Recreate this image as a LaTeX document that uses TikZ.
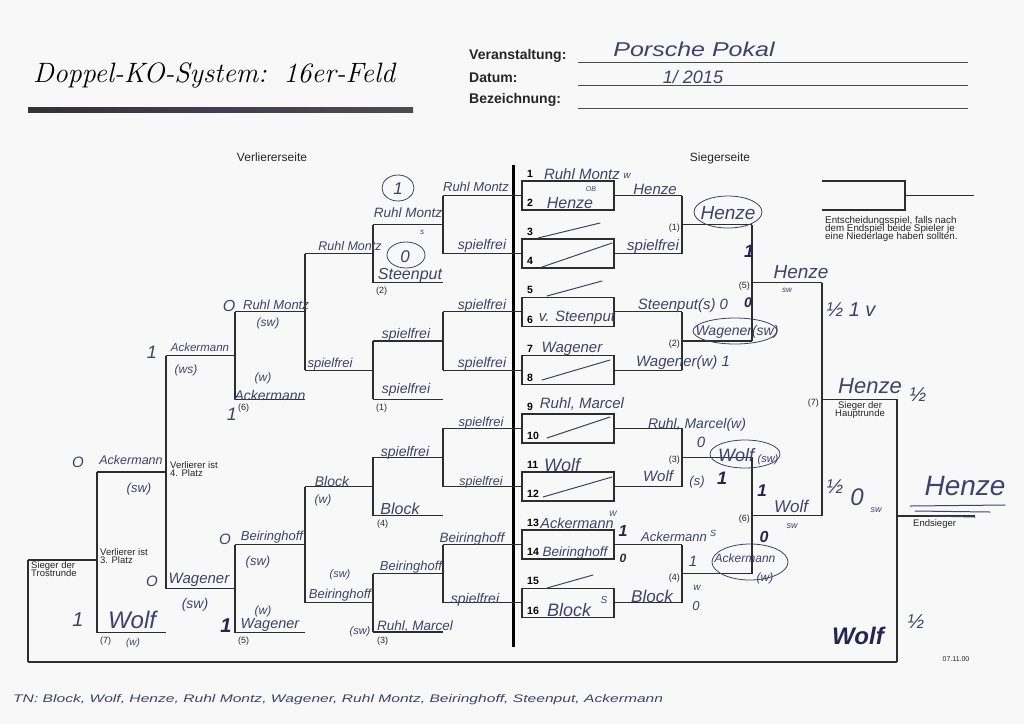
\documentclass[tikz,border=0pt]{standalone}
\usepackage{fontspec}
\usepackage{graphicx}
\newfontfamily\pf{Liberation Sans}
\newfontfamily\hw{Liberation Sans}
\definecolor{ink}{RGB}{62,66,112}
\definecolor{inkd}{RGB}{36,38,80}
\definecolor{paper}{RGB}{248,248,248}
\definecolor{ln}{RGB}{45,45,45}
\newcommand\hs[1]{\hw\itshape\fontsize{#1}{#1}\selectfont}
\newcommand\ps[1]{\pf\fontsize{#1}{#1}\selectfont}
\tikzset{
  br/.style={draw=ln, line width=1.1pt},
  bx/.style={draw=ln, line width=1.5pt},
  hw/.style={text=ink, inner sep=0pt, font=\hs{14}},
  hb/.style={text=inkd, inner sep=0pt, font=\bfseries\hs{16}},
  pr/.style={text=black!85, inner sep=0pt, font=\ps{9.5}},
  rl/.style={text=black!85, inner sep=0pt, font=\ps{9}},
  num/.style={text=black, inner sep=0pt, font=\bfseries\ps{10.5}, anchor=west},
  circ/.style={draw=ink, line width=0.8pt},
  stroke/.style={draw=ink, line width=1pt, line cap=round}
}
\begin{document}
\begin{tikzpicture}[x=1pt,y=-1pt]
\fill[paper] (0,0) rectangle (1024,724);
\useasboundingbox (0,0) rectangle (1024,724);

% ---------- header ----------
\node[anchor=base west, inner sep=0pt, font=\rmfamily\itshape\fontsize{28}{28}\selectfont] (title) at (33,82) {Doppel-KO-System:\hspace{17pt}16er-Feld};
\shade[left color=black!80, right color=black!70, middle color={rgb,255:red,70;green,60;blue,80}] (28,107) rectangle (413,112);
\node[anchor=west, inner sep=0pt, font=\bfseries\ps{14}, text=black!85] (ver) at (469,56) {Veranstaltung:};
\node[anchor=west, inner sep=0pt, font=\bfseries\ps{14}, text=black!85] (dat) at (469,78) {Datum:};
\node[anchor=west, inner sep=0pt, font=\bfseries\ps{14}, text=black!85] (bez) at (469,100) {Bezeichnung:};
\draw[draw=black!70, line width=0.8pt] (578,62) -- (968,62);
\draw[draw=black!70, line width=0.8pt] (578,85) -- (968,85);
\draw[draw=black!70, line width=0.8pt] (578,108) -- (968,108);
\node[hw, font=\hs{20}] (pp) at (694,49) {\scalebox{1.25}[1]{Porsche Pokal}};
\node[hw, font=\hs{18}] (dd) at (693,77) {1/ 2015};

% ---------- printed headings ----------
\node[pr, font=\ps{12}] (vs) at (272,157) {Verliererseite};
\node[pr, font=\ps{12}] (ss) at (720,158) {Siegerseite};

% ---------- centre line ----------
\draw[draw=black, line width=3pt] (513,165) -- (513,647);

% ---------- winner boxes, first-round lines ----------
\foreach \k in {0,...,7}{
  \pgfmathsetmacro\t{181+58.2*\k}
  \draw[br] (443,\t+14.5) -- (522,\t+14.5);
  \draw[br] (614,\t+14.5) -- (682,\t+14.5);
  \draw[bx] (522,\t) rectangle (614,\t+29);
  \pgfmathtruncatemacro\no{2*\k+1}
  \pgfmathtruncatemacro\ne{2*\k+2}
  \node[num] (no\k) at (527,\t-7) {\no};
  \node[num] (ne\k) at (527,\t+22) {\ne};
}

% ---------- winner brackets ----------
\foreach \a in {195.5,311.9,428.3,544.7}{
  \draw[br] (682,\a) -- (682,\a+58.2);
  \draw[br] (682,\a+29.1) -- (752,\a+29.1);
}
\draw[br] (752,224.6) -- (752,341);
\draw[br] (752,282.8) -- (822,282.8);
\draw[br] (752,457.4) -- (752,573.8);
\draw[br] (752,515.6) -- (822,515.6);
\draw[br] (822,282.8) -- (822,515.6);
\draw[br] (822,399.2) -- (897,399.2);
\draw[br] (897,399.2) -- (897,662);
\draw[br] (897,516) -- (975,516);
\draw[br] (28,662) -- (897,662);
\draw[br] (28,560) -- (28,662);
\draw[br] (28,560) -- (97,560);

% ---------- loser brackets ----------
\foreach \a in {195.5,311.9,428.3,544.7}{
  \draw[br] (443,\a) -- (443,\a+58.2);
  \draw[br] (373,\a+29.1) -- (443,\a+29.1);
  \draw[br] (373,\a+87.3) -- (443,\a+87.3);
  \draw[br] (373,\a+29.1) -- (373,\a+87.3);
  \draw[br] (305,\a+58.2) -- (373,\a+58.2);
}
\draw[br] (305,253.7) -- (305,370.1);
\draw[br] (235,311.9) -- (305,311.9);
\draw[br] (235,399.2) -- (305,399.2);
\draw[br] (235,311.9) -- (235,399.2);
\draw[br] (305,486.5) -- (305,602.9);
\draw[br] (235,544.7) -- (305,544.7);
\draw[br] (235,632.5) -- (305,632.5);
\draw[br] (235,544.7) -- (235,632.5);
\draw[br] (166,355.6) -- (235,355.6);
\draw[br] (166,588.6) -- (235,588.6);
\draw[br] (166,355.6) -- (166,588.6);
\draw[br] (97,472) -- (166,472);
\draw[br] (97,632.5) -- (166,632.5);
\draw[br] (97,472) -- (97,632.5);

% Entscheidungsspiel bracket
\draw[br] (822,181) -- (905,181) -- (905,210) -- (822,210);
\draw[br] (905,195.5) -- (974,195.5);
\node[rl, anchor=north west, align=left, font=\ps{9.8}] (ent) at (825,216) {Entscheidungsspiel, falls nach\\[-1.6pt]dem Endspiel beide Spieler je\\[-1.6pt]eine Niederlage haben sollten.};

% ---------- round labels ----------
\node[rl, anchor=east] (w1) at (680,228) {(1)};
\node[rl, anchor=east] (w2) at (680,344) {(2)};
\node[rl, anchor=east] (w3) at (680,460) {(3)};
\node[rl, anchor=east] (w4) at (680,578) {(4)};
\node[rl, anchor=east] (w5) at (750,286) {(5)};
\node[rl, anchor=east] (w6) at (750,519) {(6)};
\node[rl, anchor=east] (w7) at (819,403) {(7)};
\node[rl, anchor=west] (l2) at (376,291) {(2)};
\node[rl, anchor=west] (l1) at (376,408) {(1)};
\node[rl, anchor=west] (l4) at (377,524) {(4)};
\node[rl, anchor=west] (l3) at (377,641) {(3)};
\node[rl, anchor=west] (l6) at (238,408) {(6)};
\node[rl, anchor=west] (l5) at (238,641) {(5)};
\node[rl, anchor=west] (l7) at (100,641) {(7)};

\node[pr, anchor=north west, align=left] (v4) at (170,461) {Verlierer ist\\[-1pt]4. Platz};
\node[pr, anchor=north west, align=left] (v3) at (100,548) {Verlierer ist\\[-1pt]3. Platz};
\node[pr, anchor=north west, align=left] (st) at (31,561) {Sieger der\\[-1pt]Trostrunde};
\node[pr, anchor=north, align=center] (sh) at (860,401) {Sieger der\\[-1pt]Hauptrunde};
\node[pr, anchor=west] (es) at (913,524) {Endsieger};
\node[rl, font=\ps{7}] (dt) at (956,659) {07.11.00};

% ---------- handwriting: loser side ----------
\node[hw, font=\hs{17}] (h1) at (398,189) {1};
\draw[circ] (398,188) ellipse [x radius=16pt, y radius=13pt];
\node[hw, font=\hs{13}] (h2) at (476,187) {Ruhl Montz};
\node[hw, font=\hs{13.5}] (h3) at (408,213) {Ruhl Montz};
\node[hw, font=\hs{8}] (h3s) at (422,232) {s};
\node[hw, font=\hs{17}] (h4) at (405,257) {0};
\draw[circ] (406,255) ellipse [x radius=19pt, y radius=13pt];
\node[hw, font=\hs{16}] (h5) at (410,276) {Steenput};
\node[hw] (h6) at (482,246) {spielfrei};
\node[hw, font=\hs{12.5}] (h7) at (350,246) {Ruhl Montz};
\node[hw, font=\hs{16}] (h8o) at (229,306) {O};
\node[hw, font=\hs{13}] (h8) at (276,305) {Ruhl Montz};
\node[hw, font=\hs{12}] (h8s) at (268,323) {(sw)};
\node[hw] (h9) at (482,306) {spielfrei};
\node[hw] (h10) at (482,364) {spielfrei};
\node[hw] (h11) at (406,335) {spielfrei};
\node[hw, font=\hs{13}] (h12) at (330,364) {spielfrei};
\node[hw] (h13) at (406,390) {spielfrei};
\node[hw, font=\hs{12}] (h14w) at (263,378) {(w)};
\node[hw, font=\hs{14}] (h14) at (270,395) {Ackermann};
\node[hw, font=\hs{18}] (h15) at (232,414) {1};
\node[hw, font=\hs{18}] (h16o) at (152,352) {1};
\node[hw, font=\hs{11.5}] (h16) at (200,347) {Ackermann};
\node[hw, font=\hs{12}] (h16s) at (186,370) {(ws)};
\node[hw, font=\hs{15}] (h17o) at (78,462) {O};
\node[hw, font=\hs{12.5}] (h17) at (131,460) {Ackermann};
\node[hw, font=\hs{13}] (h17s) at (139,489) {(sw)};
\node[hw, font=\hs{15}] (h18o) at (152,581) {O};
\node[hw, font=\hs{15}] (h18) at (199,580) {Wagener};
\node[hw, font=\hs{14}] (h18s) at (195,605) {(sw)};
\node[hw, font=\hs{20}] (h19o) at (78,620) {1};
\node[hw, font=\hs{24}] (h19) at (132,620) {Wolf};
\node[hw, font=\hs{10}] (h19w) at (133,643) {(w)};
\node[hw, font=\hs{15}] (h20o) at (225,539) {O};
\node[hw, font=\hs{13}] (h20) at (272,537) {Beiringhoff};
\node[hw, font=\hs{13}] (h20s) at (258,562) {(sw)};
\node[hw, font=\hs{12}] (h21w) at (263,611) {(w)};
\node[hw, font=\hs{14.5}] (h21) at (270,625) {Wagener};
\node[hb, font=\bfseries\hs{20}] (h21o) at (226,626) {1};
\node[hw, font=\hs{14}] (h22) at (332,481) {Block};
\node[hw, font=\hs{12}] (h22w) at (323,500) {(w)};
\node[hw] (h23) at (405,453) {spielfrei};
\node[hw, font=\hs{16}] (h24) at (400,509) {Block};
\node[hw, font=\hs{13}] (h25) at (481,423) {spielfrei};
\node[hw, font=\hs{12.5}] (h26) at (481,482) {spielfrei};
\node[hw, font=\hs{11}] (h27s) at (340,575) {(sw)};
\node[hw, font=\hs{13}] (h27) at (340,595) {Beiringhoff};
\node[hw, font=\hs{13}] (h28) at (411,567) {Beiringhoff};
\node[hw, font=\hs{11}] (h29s) at (360,632) {(sw)};
\node[hw, font=\hs{13.5}] (h29) at (415,626) {Ruhl, Marcel};
\node[hw, font=\hs{13.5}] (h30) at (472,539) {Beiringhoff};
\node[hw] (h31) at (475,600) {spielfrei};

% ---------- handwriting: winner boxes ----------
\node[hw, font=\hs{15}] (b1) at (582,174) {Ruhl Montz};
\node[hw, font=\hs{10}] (b1w) at (627,176) {w};
\node[hw, font=\hs{7}] (b1b) at (591,189) {OB};
\node[hw, font=\hs{16}] (b2) at (570,203) {Henze};
\draw[stroke] (538,238) -- (600,223);
\draw[stroke] (542,267) -- (612,243);
\draw[stroke] (547,296) -- (602,281);
\node[hw, font=\hs{15}] (b6) at (577,318) {v. Steenput};
\node[hw, font=\hs{15}] (b7) at (572,349) {Wagener};
\draw[stroke] (542,380) -- (610,360);
\node[hw, font=\hs{15}] (b9) at (582,404) {Ruhl, Marcel};
\draw[stroke] (547,438) -- (610,417);
\node[hw, font=\hs{18}] (b11) at (562,465) {Wolf};
\draw[stroke] (543,497) -- (612,477);
\node[hw, font=\hs{14.5}] (b13) at (577,523) {Ackermann};
\node[hw, font=\hs{8}] (b13w) at (613,514) {W};
\node[hb] (b13o) at (623,531) {1};
\node[hw, font=\hs{13.5}] (b14) at (575,553) {Beiringhoff};
\node[hb, font=\bfseries\hs{12}] (b14o) at (623,558) {0};
\draw[stroke] (547,588) -- (593,575);
\node[hw, font=\hs{18}] (b16) at (569,610) {Block};
\node[hw, font=\hs{10}] (b16s) at (604,600) {S};

% ---------- handwriting: winner brackets ----------
\node[hw, font=\hs{15}] (c1) at (655,189) {Henze};
\node[hw, font=\hs{15}] (c2) at (653,247) {spielfrei};
\node[hw, font=\hs{15}] (c3) at (683,306) {Steenput(s) 0};
\node[hw, font=\hs{15}] (c4) at (683,363) {Wagener(w) 1};
\node[hw, font=\hs{14}] (c5) at (697,425) {Ruhl, Marcel(w)};
\node[hw, font=\hs{15}] (c6) at (658,476) {Wolf};
\node[hw, font=\hs{13}] (c6s) at (697,482) {(s)};
\node[hb, font=\bfseries\hs{18}] (c6o) at (722,478) {1};
\node[hw, font=\hs{13}] (c7) at (674,537) {Ackermann};
\node[hw, font=\hs{9}] (c7s) at (713,533) {S};
\node[hw, font=\hs{15}] (c7o) at (693,561) {1};
\node[hw, font=\hs{17}] (c8) at (652,596) {Block};
\node[hw, font=\hs{10}] (c8w) at (697,588) {w};
\node[hw, font=\hs{13}] (c8o) at (696,606) {0};
\node[hw, font=\hs{19}] (c9) at (728,213) {Henze};
\draw[circ] (728,212) ellipse [x radius=34pt, y radius=16pt];
\node[hb, font=\bfseries\hs{18}] (c10) at (749,251) {1};
\node[hb, font=\bfseries\hs{14}] (c11) at (748,303) {0};
\node[hw, font=\hs{14}] (c12) at (737,332) {Wagener(sw)};
\draw[circ] (735,331) ellipse [x radius=42pt, y radius=13pt];
\node[hw, font=\hs{15}] (c13o) at (701,442) {0};
\node[hw, font=\hs{18}] (c13) at (736,455) {Wolf};
\node[hw, font=\hs{11}] (c13s) at (768,460) {(sw)};
\draw[circ] (745,454) ellipse [x radius=35pt, y radius=14pt];
\node[hb, font=\bfseries\hs{17}] (c14o) at (762,491) {1};
\node[hw, font=\hs{17}] (c14) at (791,506) {Wolf};
\node[hw, font=\hs{9}] (c14s) at (792,526) {sw};
\node[hb, font=\bfseries\hs{16}] (c15o) at (764,537) {0};
\node[hw, font=\hs{12}] (c15) at (745,558) {Ackermann};
\node[hw, font=\hs{12}] (c15w) at (765,578) {(w)};
\draw[circ] (750,562) ellipse [x radius=38pt, y radius=18pt];
\node[hw, font=\hs{19}] (c16) at (801,272) {Henze};
\node[hw, font=\hs{8}] (c16s) at (787,290) {sw};
\node[hw, font=\hs{20}] (c17) at (851,310) {\textonehalf\ 1 v};
\node[hw, font=\hs{22}] (c18) at (870,386) {Henze};
\node[hw, font=\hs{20}] (c18h) at (918,395) {\textonehalf};
\node[hw, font=\hs{20}] (c19) at (835,487) {\textonehalf};
\node[hw, font=\hs{24}] (c19o) at (857,497) {0};
\node[hw, font=\hs{9}] (c19s) at (876,510) {sw};
\node[hw, font=\hs{28}] (c20) at (965,486) {Henze};
\draw[stroke] (910,506) -- (1005,505);
\draw[stroke] (915,511) -- (990,512);
\draw[stroke] (930,516) -- (975,517);
\node[hb, font=\bfseries\hs{24}] (c21) at (858,636) {Wolf};
\node[hw, font=\hs{20}] (c22) at (916,622) {\textonehalf};

% ---------- participants ----------
\node[hw, anchor=west, font=\hs{11}] (tn) at (13,700) {\scalebox{1.42}[1]{TN: Block, Wolf, Henze, Ruhl Montz, Wagener, Ruhl Montz, Beiringhoff, Steenput, Ackermann}};
\end{tikzpicture}
\end{document}
